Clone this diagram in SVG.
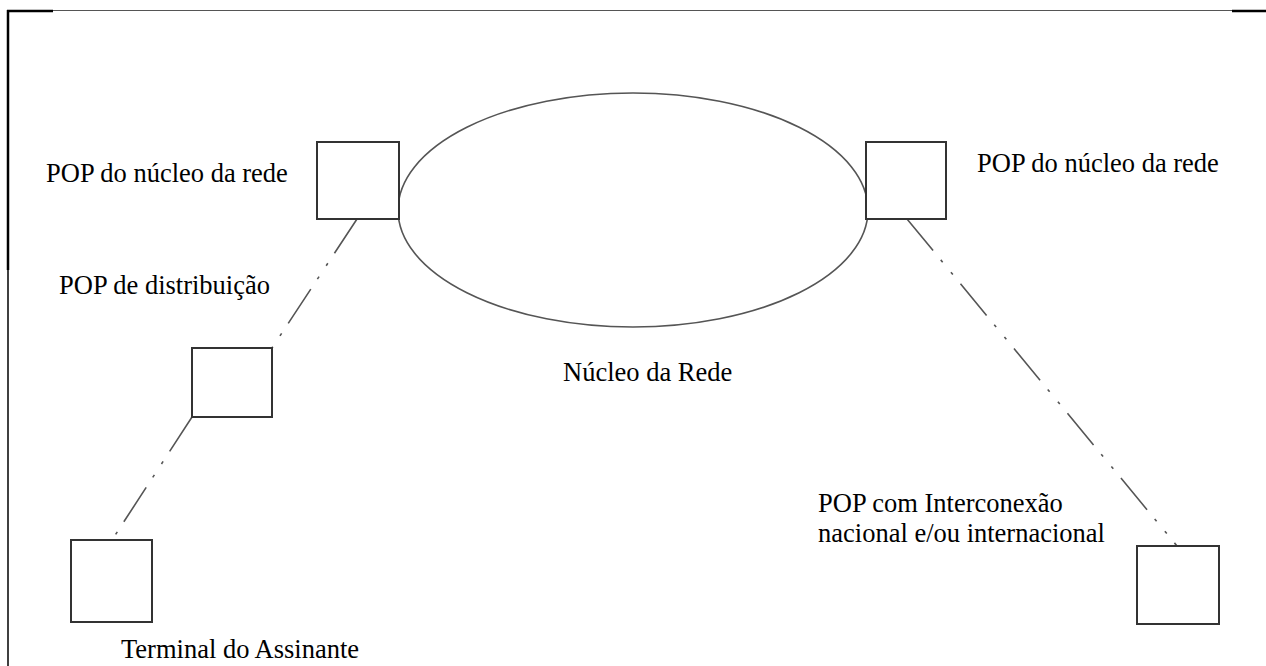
<svg xmlns="http://www.w3.org/2000/svg" width="1266" height="666" viewBox="0 0 1266 666">
<style>
.box{fill:#fff;stroke:#333;stroke-width:2}
.lnk{fill:none;stroke:#555;stroke-width:1.6;stroke-dasharray:41 12 3 13 3 12}
.lbl{font-family:"Liberation Serif","Times New Roman",serif;font-size:26.5px;fill:#000}
</style>
<rect width="1266" height="666" fill="#fff"/>
<g id="frame">
<line x1="53" y1="10.5" x2="1232" y2="10.5" stroke="#555" stroke-width="1"/>
<line x1="7" y1="11" x2="53" y2="11" stroke="#000" stroke-width="2.5"/>
<line x1="1232" y1="11" x2="1266" y2="11" stroke="#000" stroke-width="2.5"/>
<line x1="8" y1="10" x2="8" y2="270" stroke="#000" stroke-width="2.5"/>
<line x1="8" y1="270" x2="8" y2="666" stroke="#000" stroke-width="1.5"/>
</g>
<g id="connectors">
<line class="lnk" x1="357" y1="219" x2="272" y2="348"/>
<line class="lnk" x1="192" y1="417" x2="112" y2="540"/>
<line class="lnk" x1="907" y1="219" x2="1177" y2="546"/>
</g>
<g id="nucleo">
<ellipse cx="633" cy="210" rx="235" ry="117" fill="none" stroke="#555" stroke-width="1.6"/>
<text class="lbl" x="563" y="381">Núcleo da Rede</text>
</g>
<g id="pop-nucleo-esq">
<rect class="box" x="317" y="142" width="82" height="77"/>
<text class="lbl" x="46" y="182">POP do núcleo da rede</text>
</g>
<g id="pop-nucleo-dir">
<rect class="box" x="866" y="142" width="80" height="77"/>
<text class="lbl" x="977" y="172">POP do núcleo da rede</text>
</g>
<g id="pop-distribuicao">
<rect class="box" x="192" y="348" width="80" height="69"/>
<text class="lbl" x="59" y="294">POP de distribuição</text>
</g>
<g id="terminal">
<rect class="box" x="71" y="540" width="81" height="82"/>
<text class="lbl" x="121" y="658">Terminal do Assinante</text>
</g>
<g id="pop-interconexao">
<rect class="box" x="1137" y="546" width="82" height="78"/>
<text class="lbl" x="818" y="512">POP com Interconexão</text>
<text class="lbl" x="818" y="542">nacional e/ou internacional</text>
</g>
</svg>
